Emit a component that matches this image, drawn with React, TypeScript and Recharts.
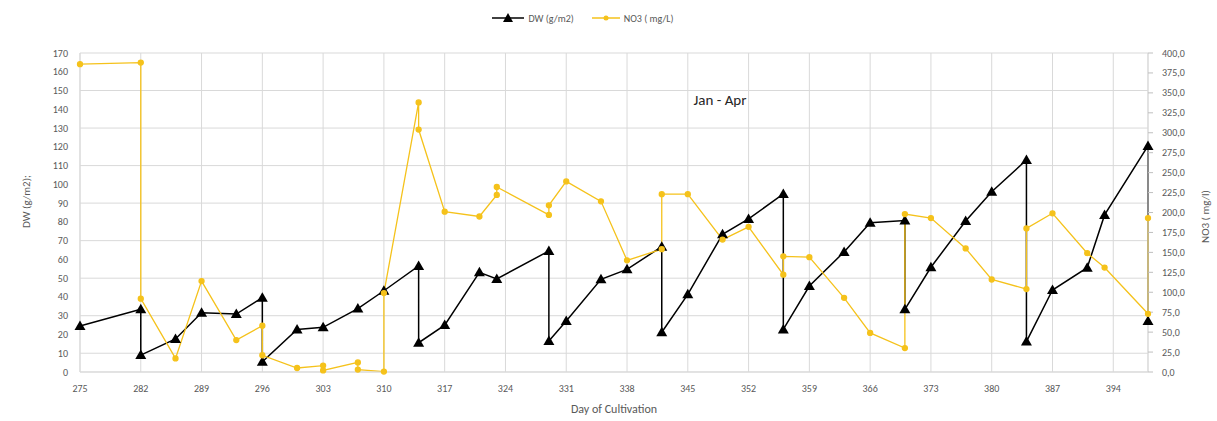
import React from 'react';
import { LineChart, Line, XAxis, YAxis, CartesianGrid, Legend, ReferenceDot } from 'recharts';

// Day of cultivation ticks
const X_TICKS = [275, 282, 289, 296, 303, 310, 317, 324, 331, 338, 345, 352, 359, 366, 373, 380, 387, 394];
const DW_TICKS = [0, 10, 20, 30, 40, 50, 60, 70, 80, 90, 100, 110, 120, 130, 140, 150, 160, 170];
const NO3_TICKS = [0, 25, 50, 75, 100, 125, 150, 175, 200, 225, 250, 275, 300, 325, 350, 375, 400];

// DW (g/m2) - repeated days are harvest drops
const dwDays = [275, 282, 282, 286, 289, 293, 296, 296, 300, 303, 307, 310, 314, 314, 317, 321, 323, 329, 329, 331, 335, 338, 342, 342, 345, 349, 352, 356, 356, 359, 363, 366, 370, 370, 373, 377, 380, 384, 384, 387, 391, 393, 398, 398];
const dwValues = [24.5, 33.4, 9, 17.6, 31.6, 30.9, 39.6, 5.5, 22.7, 23.8, 33.8, 43.3, 56.5, 15.6, 25, 53.1, 49.6, 64.5, 16.5, 27.2, 49.4, 54.7, 66.8, 21.2, 41.4, 73.4, 81.6, 94.9, 22.7, 45.8, 64, 79.6, 80.7, 33.4, 55.8, 80.5, 96.1, 113, 16.2, 43.7, 55.6, 83.7, 120.5, 27.2];

// NO3 (mg/l)
const no3Days = [275, 282, 282, 286, 289, 293, 296, 296, 300, 303, 303, 307, 307, 310, 310, 314, 314, 317, 321, 323, 323, 329, 329, 331, 335, 338, 342, 342, 345, 349, 352, 356, 356, 359, 363, 366, 370, 370, 373, 377, 380, 384, 384, 387, 391, 393, 398, 398];
const no3Values = [386, 388, 92, 17, 114, 40, 58, 21, 5, 8, 2, 12, 3, 0.5, 99, 338, 304, 201, 195, 222, 232, 197, 209, 239, 214, 140, 154, 223, 223, 166, 182, 122, 145, 144, 93, 49, 30, 198, 193, 155, 116, 104, 180, 199, 149, 131, 73, 193];

const dwData = dwDays.map((day, i) => ({ day, dw: dwValues[i] }));
const no3Data = no3Days.map((day, i) => ({ day, no3: no3Values[i] }));

const GRID = '#d9d9d9';
const TEXT = '#595959';
const GOLD = '#f5c21b';

const Triangle = (props: any) => {
    const { cx, cy } = props;
    if (cx == null || cy == null) return null;
    return <polygon points={`${cx},${cy - 5.5} ${cx - 5.5},${cy + 4} ${cx + 5.5},${cy + 4}`} fill="#000" />;
};

const LegendContent = () => (
    <div style={{ display: 'flex', justifyContent: 'center', alignItems: 'center', height: 26, paddingRight: 62, fontSize: 10, color: TEXT }}>
        <svg width={32} height={12}>
            <line x1={0} y1={6} x2={32} y2={6} stroke="#000" strokeWidth={1.5} />
            <polygon points="16,1 11,10 21,10" fill="#000" />
        </svg>
        <span style={{ marginLeft: 4, marginRight: 18 }}>DW (g/m2)</span>
        <svg width={28} height={12}>
            <line x1={0} y1={6} x2={28} y2={6} stroke={GOLD} strokeWidth={1.5} />
            <circle cx={14} cy={6} r={2.5} fill={GOLD} />
        </svg>
        <span style={{ marginLeft: 4 }}>NO3 ( mg/L)</span>
    </div>
);

const fmtComma = (v: number) => v.toFixed(1).replace('.', ',');

export default function App() {
    return (
        <div style={{ width: 1217, height: 421, fontFamily: 'Carlito, Calibri, Lato, sans-serif' }}>
            <style>{`body{margin:0}`}</style>
            <LineChart width={1217} height={421} margin={{ top: 27, right: 9, bottom: 11, left: 20 }}>
                <CartesianGrid yAxisId="left" stroke={GRID} vertical horizontal />
                <XAxis
                    dataKey="day"
                    type="number"
                    domain={[275, 398]}
                    ticks={X_TICKS}
                    allowDuplicatedCategory
                    height={38}
                    tickSize={0}
                    tickMargin={13}
                    axisLine={{ stroke: GRID }}
                    tick={{ fill: TEXT, fontSize: 10 }}
                    label={{ value: 'Day of Cultivation', position: 'insideBottom', offset: -3, fill: TEXT, fontSize: 12 }}
                />
                <YAxis
                    yAxisId="left"
                    domain={[0, 170]}
                    ticks={DW_TICKS}
                    width={60}
                    tickSize={0}
                    tickMargin={12}
                    axisLine={{ stroke: GRID }}
                    tick={{ fill: TEXT, fontSize: 10 }}
                    label={{
                        content: (p: any) => {
                            const vb = p.viewBox;
                            const x = vb.x + 6;
                            const y = vb.y + vb.height / 2 - 11;
                            return (
                                <text x={x} y={y} transform={`rotate(-90 ${x} ${y})`} textAnchor="middle" dominantBaseline="central" fill={TEXT} fontSize={11}>
                                    DW (g/m2);
                                </text>
                            );
                        },
                    }}
                />
                <YAxis
                    yAxisId="right"
                    orientation="right"
                    domain={[0, 400]}
                    ticks={NO3_TICKS}
                    width={60}
                    tickSize={5}
                    tickMargin={9}
                    tickLine={{ stroke: '#bfbfbf' }}
                    axisLine={{ stroke: GRID }}
                    tickFormatter={fmtComma}
                    tick={{ fill: TEXT, fontSize: 10, textAnchor: 'start' }}
                    label={{
                        content: (p: any) => {
                            const vb = p.viewBox;
                            const x = vb.x + vb.width - 3;
                            const y = vb.y + vb.height / 2 + 4;
                            return (
                                <text x={x} y={y} transform={`rotate(-90 ${x} ${y})`} textAnchor="middle" dominantBaseline="central" fill={TEXT} fontSize={11}>
                                    NO3 ( mg/l)
                                </text>
                            );
                        },
                    }}
                />
                <Legend verticalAlign="top" content={<LegendContent />} wrapperStyle={{ top: 5 }} />
                <Line
                    yAxisId="left"
                    data={dwData}
                    dataKey="dw"
                    name="DW (g/m2)"
                    stroke="#000"
                    strokeWidth={1.5}
                    dot={<Triangle />}
                    activeDot={false}
                    isAnimationActive={false}
                />
                <Line
                    yAxisId="right"
                    data={no3Data}
                    dataKey="no3"
                    name="NO3 ( mg/L)"
                    stroke={GOLD}
                    strokeWidth={1.3}
                    dot={{ r: 2.5, fill: GOLD, stroke: GOLD }}
                    activeDot={false}
                    isAnimationActive={false}
                />
                <ReferenceDot
                    yAxisId="left"
                    x={348.7}
                    y={145}
                    r={1}
                    fill="none"
                    stroke="none"
                    label={{ value: 'Jan - Apr', position: 'center', fill: '#262626', fontSize: 15 }}
                />
            </LineChart>
        </div>
    );
}
